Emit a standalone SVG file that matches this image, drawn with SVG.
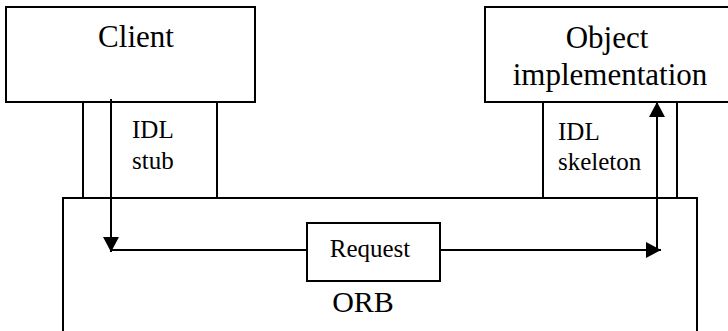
<svg xmlns="http://www.w3.org/2000/svg" width="728" height="331" viewBox="0 0 728 331">
<style>
.box{fill:#fff;stroke:#000;stroke-width:2}
.ln{fill:none;stroke:#000;stroke-width:2}
.t{font-family:"Liberation Serif",Tinos,"Times New Roman",Times,"DejaVu Serif",serif;fill:#000}
</style>
<defs>
<marker id="ah" viewBox="0 0 15 16" refX="15" refY="8" markerWidth="15" markerHeight="16" markerUnits="userSpaceOnUse" orient="auto">
<path d="M0,0 L15,8 L0,16 Z" fill="#000"/>
</marker>
</defs>
<rect width="728" height="331" fill="#fff"/>
<g id="orb">
<path class="ln" d="M63,332 V198 H697 V332"/>
<text class="t" x="363" y="312" font-size="30" text-anchor="middle">ORB</text>
</g>
<g id="client">
<rect class="box" x="6" y="7" width="249" height="95"/>
<text class="t" x="136" y="47" font-size="31" text-anchor="middle">Client</text>
</g>
<g id="object">
<rect class="box" x="485" y="7" width="250" height="95"/>
<text class="t" x="607" y="48" font-size="31" text-anchor="middle">Object</text>
<text class="t" x="610" y="85" font-size="31" text-anchor="middle">implementation</text>
</g>
<g id="stub">
<line class="ln" x1="83" y1="102" x2="83" y2="198"/>
<line class="ln" x1="217" y1="102" x2="217" y2="198"/>
<text class="t" x="132" y="138" font-size="25">IDL</text>
<text class="t" x="132" y="169" font-size="25">stub</text>
</g>
<g id="skeleton">
<line class="ln" x1="543" y1="102" x2="543" y2="198"/>
<line class="ln" x1="677" y1="102" x2="677" y2="198"/>
<text class="t" x="558" y="140" font-size="25">IDL</text>
<text class="t" x="558" y="170" font-size="25">skeleton</text>
</g>
<g id="request">
<rect class="box" x="307" y="223" width="133" height="58"/>
<text class="t" x="370" y="257" font-size="25" text-anchor="middle">Request</text>
</g>
<g id="connectors">
<line class="ln" x1="111" y1="99" x2="111" y2="252" marker-end="url(#ah)"/>
<line class="ln" x1="111" y1="250" x2="307" y2="250"/>
<line class="ln" x1="440" y1="250" x2="661" y2="250" marker-end="url(#ah)"/>
<line class="ln" x1="657" y1="251" x2="657" y2="102" marker-end="url(#ah)"/>
</g>
</svg>
